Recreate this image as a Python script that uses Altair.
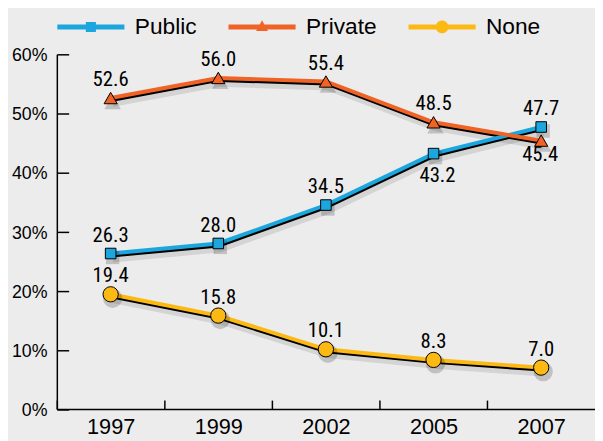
import altair as alt
import pandas as pd

# ---- data ----
years = ["1997", "1999", "2002", "2005", "2007"]
series_names = ["Public", "Private", "None"]
public_vals = [26.3, 28.0, 34.5, 43.2, 47.7]
private_vals = [52.6, 56.0, 55.4, 48.5, 45.4]
none_vals = [19.4, 15.8, 10.1, 8.3, 7.0]
y_ticks = [0, 10, 20, 30, 40, 50, 60]
# labels drawn below their point (all others are above)
labels_below_public = ["2005"]
labels_below_private = ["2007"]

# ---- styles ----
colors = ["#1ba6de", "#ef6327", "#fdb913"]
marker_shapes = ["square", "triangle-up", "circle"]
marker_sizes = [115, 240, 150]
legend_paths = [
    "M-1 -0.075H-0.15V-0.15H0.15V-0.075H1V0.075H0.15V0.15H-0.15V0.075H-1Z",
    "M-1 -0.075H-0.069L0 -0.2L0.069 -0.075H1V0.075H0.151L0.176 0.12H-0.176L-0.151 0.075H-1Z",
    "M-1 -0.075H-0.175A0.19 0.19 0 0 1 0.175 -0.075H1V0.075H0.175A0.19 0.19 0 0 1 -0.175 0.075H-1Z",
]
FONT = "Liberation Sans"
LABEL_FONT = "Liberation Sans Narrow, Roboto Condensed, DejaVu Sans Condensed, Liberation Sans"
BG = "#ececec"

rows = []
for name, vals in zip(series_names, [public_vals, private_vals, none_vals]):
    for yr, v in zip(years, vals):
        below = (name == "Public" and yr in labels_below_public) or (
            name == "Private" and yr in labels_below_private)
        rows.append({"year": yr, "series": name, "value": v,
                     "label": f"{v:.1f}", "pos": "below" if below else "above"})
df = pd.DataFrame(rows)

x_enc = alt.X(
    "year:N", sort=years,
    scale=alt.Scale(type="band", paddingInner=0, paddingOuter=0),
    axis=alt.Axis(title=None, labelAngle=0, domainColor="black", domainWidth=1.5,
                  tickColor="black", tickWidth=1.5, tickSize={"expr": "-9"},
                  tickBand="extent", labelFont=FONT, labelFontSize=22,
                  labelColor="black", labelPadding=17, grid=False),
)
y_enc = alt.Y(
    "value:Q",
    scale=alt.Scale(domain=[0, 60], nice=False, zero=True),
    axis=alt.Axis(title=None, values=y_ticks, labelExpr="datum.value + '%'",
                  domainColor="black", domainWidth=1.5, tickColor="black",
                  tickWidth=1.5, tickSize={"expr": "-12"}, labelPadding=22,
                  labelFont=FONT, labelFontSize=18, labelColor="black",
                  labelOffset=1.5, grid=False),
)
color_scale = alt.Scale(domain=series_names, range=colors)
shape_scale = alt.Scale(domain=series_names, range=marker_shapes)
size_scale = alt.Scale(domain=series_names, range=marker_sizes)

base = alt.Chart(df)

line_shadow = base.mark_line(color="black", strokeWidth=8, opacity=0.1,
                             xOffset=2, yOffset=5).encode(
    x=x_enc, y=y_enc, detail="series:N")
line_black = base.mark_line(color="black", strokeWidth=4, yOffset=2,
                            xOffset=0.5).encode(
    x=x_enc, y=y_enc, detail="series:N")
line_color = base.mark_line(strokeWidth=4).encode(
    x=x_enc, y=y_enc, color=alt.Color("series:N", scale=color_scale, legend=None))

marker_shadow = base.mark_point(filled=True, color="black", opacity=0.18,
                                xOffset=2, yOffset=4).encode(
    x=x_enc, y=y_enc,
    shape=alt.Shape("series:N", scale=shape_scale, legend=None),
    size=alt.Size("series:N", scale=alt.Scale(domain=series_names,
                                              range=[s * 1.6 for s in marker_sizes]),
                  legend=None))
markers = base.mark_point(filled=True, opacity=1, stroke="black",
                          strokeWidth=1).encode(
    x=x_enc, y=y_enc,
    color=alt.Color("series:N", scale=color_scale, legend=None),
    shape=alt.Shape("series:N", scale=shape_scale, legend=None),
    size=alt.Size("series:N", scale=size_scale, legend=None))

text_style = dict(font=LABEL_FONT, fontSize=21, color="black", align="center",
                  baseline="alphabetic")
labels_above = base.transform_filter("datum.pos == 'above'").mark_text(
    dy=-12, **text_style).encode(x=x_enc, y=y_enc, text="label:N")
labels_below_pub = base.transform_filter(
    "datum.pos == 'below' && datum.series == 'Public'").mark_text(
    dy=29, dx=4, **text_style).encode(x=x_enc, y=y_enc, text="label:N")
labels_below_pri = base.transform_filter(
    "datum.pos == 'below' && datum.series == 'Private'").mark_text(
    dy=21, dx=-1, **text_style).encode(x=x_enc, y=y_enc, text="label:N")

legend = alt.Legend(
    title=None, orient="none", legendX=0, legendY=-62.5, direction="horizontal",
    columns=3, symbolSize=4624, symbolStrokeColor="black", symbolStrokeWidth=1,
    symbolOpacity=1, labelFont=FONT, labelFontSize=23, labelColor="black",
    labelOffset=10, columnPadding=29.5, padding=0,
)
legend_layer = base.mark_point(filled=True, opacity=0, stroke="black",
                               strokeWidth=1, size=10).encode(
    x=x_enc, y=y_enc,
    color=alt.Color("series:N", scale=alt.Scale(domain=series_names, range=colors),
                    legend=legend),
    shape=alt.Shape("series:N",
                    scale=alt.Scale(domain=series_names, range=legend_paths),
                    legend=legend),
)

chart = alt.layer(
    line_shadow, line_black, line_color, marker_shadow, markers,
    labels_above, labels_below_pub, labels_below_pri, legend_layer,
).resolve_scale(color="independent", shape="independent",
                size="independent").properties(
    width=545.5, height=359.5,
    autosize=alt.AutoSizeParams(type="none"),
    padding={"left": 49.5, "top": 44, "right": 0, "bottom": 29},
).configure(background=BG).configure_view(stroke=None)

chart.save("out.html", embed_options={"renderer": "svg", "actions": False})
